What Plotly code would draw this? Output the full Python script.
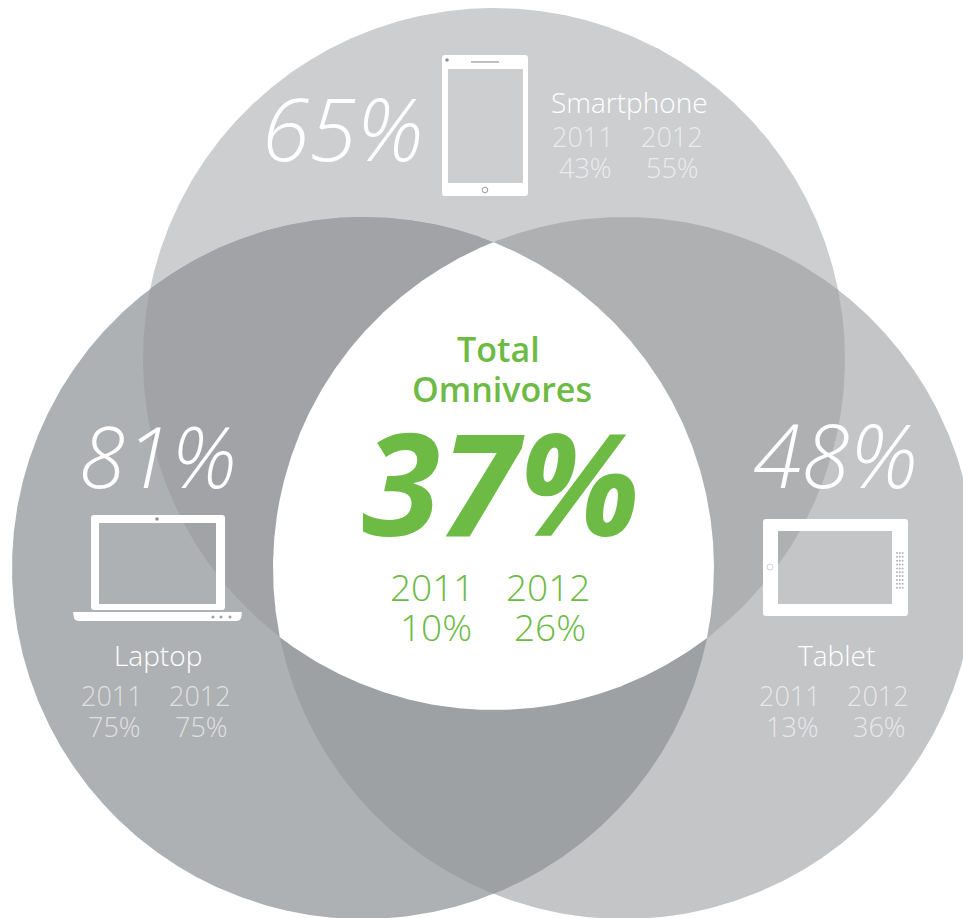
import numpy as np
import plotly.graph_objects as go

# Survey values (percent of respondents)
devices = ["Smartphone", "Laptop", "Tablet"]
share_now = [65, 81, 48]
share_2011 = [43, 75, 13]
share_2012 = [55, 75, 36]
years = ["2011", "2012"]
omni_title = ["Total", "Omnivores"]
omni_now = 37
omni_2011 = 10
omni_2012 = 26

W, H = 963, 918
GREEN = "#6dba45"
WHITE = "#ffffff"
FAINT = "rgba(255,255,255,0.62)"
FONT = "Open Sans"

# Venn geometry, in page pixels
R = 351
TOP = (494, 359)
LEFT = (363, 568)
RIGHT = (624, 568)


def circle_pts(c, n=1440):
    t = np.linspace(0, 2 * np.pi, n, endpoint=False)
    return np.c_[c[0] + R * np.cos(t), c[1] + R * np.sin(t)]


def overlap(*circles):
    """Outline of the (convex) area shared by all the given circles."""
    pts = []
    for i, c in enumerate(circles):
        p = circle_pts(c)
        for j, o in enumerate(circles):
            if i != j:
                p = p[np.hypot(p[:, 0] - o[0], p[:, 1] - o[1]) <= R + 0.01]
        pts.append(p)
    pts = np.vstack(pts)
    m = pts.mean(axis=0)
    order = np.argsort(np.arctan2(pts[:, 1] - m[1], pts[:, 0] - m[0]))
    return pts[order]


fig = go.Figure()


def add_region(pts, color):
    fig.add_trace(go.Scatter(
        x=np.r_[pts[:, 0], pts[0, 0]], y=np.r_[pts[:, 1], pts[0, 1]],
        mode="lines", line=dict(width=0), fill="toself", fillcolor=color,
        hoverinfo="skip", showlegend=False))


add_region(circle_pts(TOP), "#cdced0")
add_region(circle_pts(RIGHT), "#c4c5c7")
add_region(circle_pts(LEFT), "#aeb1b3")
add_region(overlap(TOP, LEFT), "#a1a3a6")
add_region(overlap(TOP, RIGHT), "#aeb0b2")
add_region(overlap(LEFT, RIGHT), "#9ea1a3")
add_region(overlap(TOP, LEFT, RIGHT), WHITE)

shapes = []


def rrect(x0, y0, x1, y1, r):
    return (f"M{x0 + r},{y0} L{x1 - r},{y0} Q{x1},{y0} {x1},{y0 + r} "
            f"L{x1},{y1 - r} Q{x1},{y1} {x1 - r},{y1} L{x0 + r},{y1} "
            f"Q{x0},{y1} {x0},{y1 - r} L{x0},{y0 + r} Q{x0},{y0} {x0 + r},{y0} Z")


def hole(x0, y0, x1, y1):
    return f"M{x0},{y0} L{x1},{y0} L{x1},{y1} L{x0},{y1} Z"


def frame(path):
    shapes.append(dict(type="path", path=path, xref="x", yref="y", fillcolor=WHITE,
                       fillrule="evenodd", line=dict(width=0), layer="above"))


def dot(cx, cy, r, fill, line=None):
    shapes.append(dict(type="circle", xref="x", yref="y", x0=cx - r, x1=cx + r,
                       y0=cy - r, y1=cy + r, fillcolor=fill,
                       line=dict(width=1 if line else 0, color=line or fill), layer="above"))


# Phone
frame(rrect(442, 55, 528, 196, 3) + " " + hole(448, 69, 523, 183))
shapes.append(dict(type="line", xref="x", yref="y", x0=471, x1=499, y0=62, y1=62,
                   line=dict(color="#a9abad", width=1.5), layer="above"))
dot(447, 60, 1.8, "#8f9194")
dot(485, 190, 2.8, WHITE, "#9a9c9e")

# Laptop
frame(rrect(91, 515, 225, 610, 3) + " " + hole(99, 523, 216, 604))
frame("M73,612 L242,612 L241,618 Q240,621 236,621 L79,621 Q75,621 74,618 Z")
dot(157, 519, 1.8, "#8f9194")
for cx in (213, 221, 230):
    dot(cx, 617, 1.5, "#a0a2a5")

# Tablet
frame(rrect(763, 519, 908, 616, 3) + " " + hole(778, 531, 892, 604))
dot(770, 567, 3, WHITE, "#d3d4d6")
for col in range(3):
    for row in range(10):
        dot(897 + col * 2.8, 553 + row * 3.85, 1, "#b4b5b7")


def label(x, baseline, text, size, color=WHITE, weight=300, italic=False):
    fig.add_annotation(
        x=x, y=baseline + 0.293 * size + 1, text=text, showarrow=False,
        xref="x", yref="y", xanchor="center", yanchor="bottom",
        font=dict(family=FONT, size=size, color=color, weight=weight,
                  style="italic" if italic else "normal"))


# Per-device headline, name and yearly figures
placements = [
    dict(big=(342, 162, 86), name=(629, 114), yr=(583, 672), val=(585, 672), y=(148, 179)),
    dict(big=(158, 489, 84), name=(158, 667), yr=(112, 200), val=(114, 201), y=(707, 738)),
    dict(big=(835, 489, 88), name=(836, 667), yr=(790, 878), val=(792, 879), y=(707, 738)),
]
for i, p in enumerate(placements):
    label(p["big"][0], p["big"][1], f"{share_now[i]}%", p["big"][2], italic=True)
    label(p["name"][0], p["name"][1], devices[i], 28)
    label(p["yr"][0], p["y"][0], years[0], 27, FAINT)
    label(p["yr"][1], p["y"][0], years[1], 27, FAINT)
    label(p["val"][0], p["y"][1], f"{share_2011[i]}%", 27, FAINT)
    label(p["val"][1], p["y"][1], f"{share_2012[i]}%", 27, FAINT)

# Centre of the diagram
label(498, 363, omni_title[0], 34, GREEN, 600)
label(502, 403, omni_title[1], 34, GREEN, 600)
label(501, 537, f"{omni_now}%", 142, GREEN, 700, italic=True)
label(432, 602, years[0], 37, GREEN)
label(548, 602, years[1], 37, GREEN)
label(436, 642, f"{omni_2011}%", 37, GREEN)
label(550, 642, f"{omni_2012}%", 37, GREEN)

fig.update_layout(
    width=W, height=H, margin=dict(l=0, r=0, t=0, b=0),
    paper_bgcolor=WHITE, plot_bgcolor=WHITE, shapes=shapes, showlegend=False,
    xaxis=dict(range=[0, W], visible=False, fixedrange=True),
    yaxis=dict(range=[H, 0], visible=False, fixedrange=True),
)
fig.write_html("out.html", config=dict(displayModeBar=False))
